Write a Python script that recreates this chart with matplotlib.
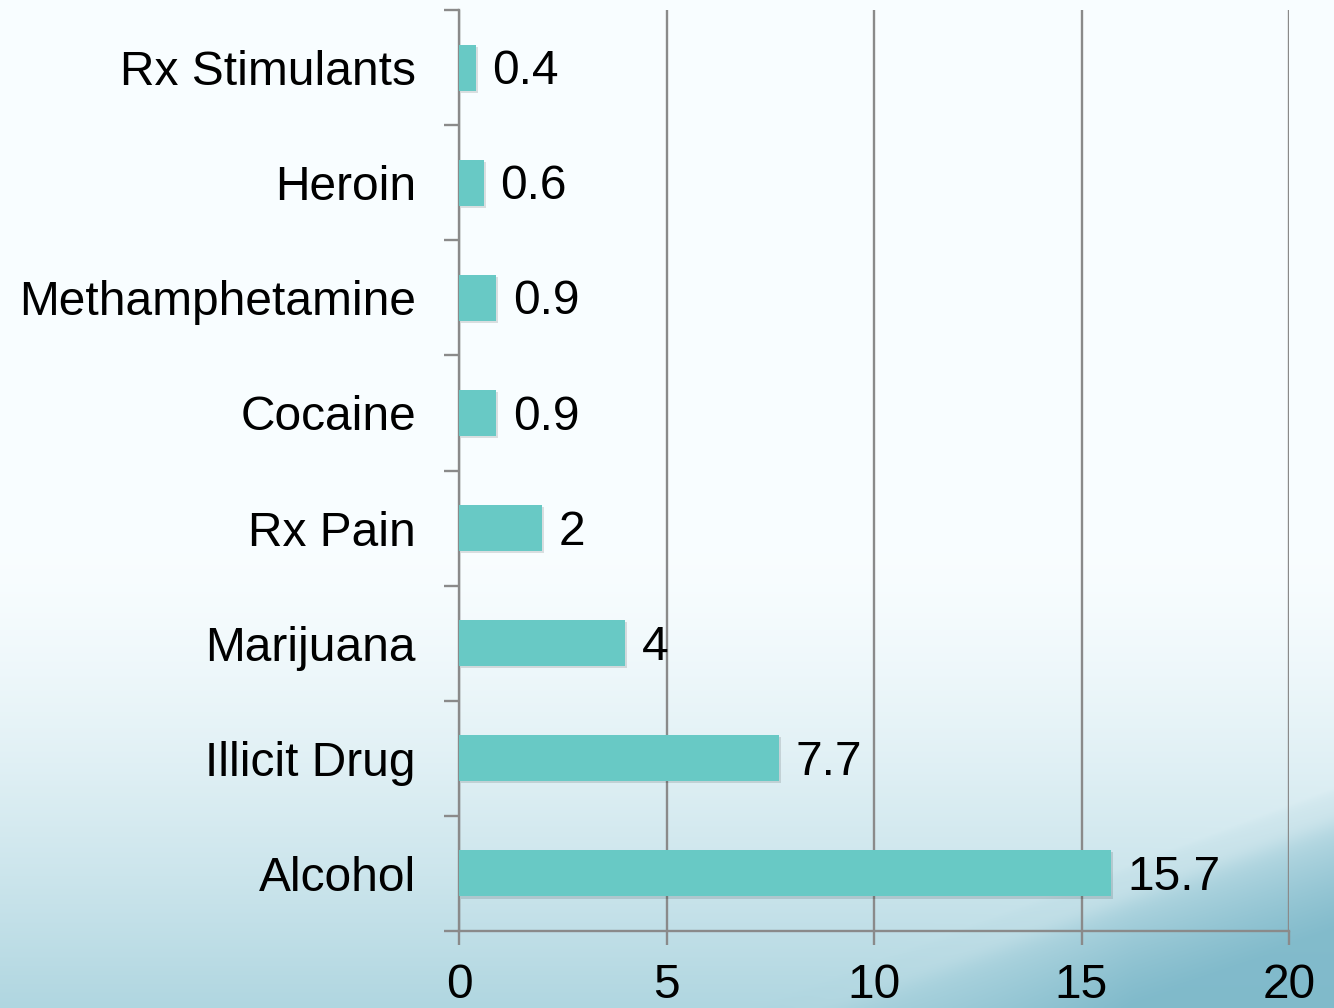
import numpy as np
import matplotlib
matplotlib.use("Agg")
import matplotlib.pyplot as plt
import matplotlib.patheffects as pe
from matplotlib.ticker import FixedLocator

plt.rcParams["font.family"] = ["Liberation Sans", "DejaVu Sans"]

categories = ["Alcohol", "Illicit Drug", "Marijuana", "Rx Pain",
              "Cocaine", "Methamphetamine", "Heroin", "Rx Stimulants"]
values = [15.7, 7.7, 4, 2, 0.9, 0.9, 0.6, 0.4]
value_labels = ["15.7", "7.7", "4", "2", "0.9", "0.9", "0.6", "0.4"]
x_ticks = [0, 5, 10, 15, 20]

BAR_COLOR = "#68c9c5"
LINE_COLOR = "#8a8a8a"

fig = plt.figure(figsize=(13.34, 10.08), dpi=100)

# soft blue backdrop: white at the top, light blue at the bottom,
# with a darker teal swoosh rising into the lower right corner
bg = fig.add_axes([0, 0, 1, 1], zorder=-10)
h, w = 504, 667
yy, xx = np.mgrid[0:h, 0:w]
ty = yy / (h - 1)
tx = xx / (w - 1)
t = np.clip((ty - 0.55) / 0.45, 0, 1) ** 1.4
top = np.array([0.975, 0.993, 1.0])
low = np.array([0.69, 0.84, 0.88])
deep = np.array([0.47, 0.71, 0.78])
img = top + (low - top) * t[..., None]
edge = 0.975 - (tx - 0.675) * 0.50
below = ty - edge
fade_x = np.clip((tx - 0.45) / 0.4, 0, 1)
swoosh = np.clip((below + 0.03) / 0.14, 0, 1) ** 0.8 * fade_x
img = img + (deep - img) * (0.85 * swoosh)[..., None]
streak = np.exp(-((below + 0.005) / 0.015) ** 2) * fade_x
img = img + (1 - img) * (0.15 * streak)[..., None]
bg.imshow(np.clip(img, 0, 1), aspect="auto", extent=[0, 1, 0, 1], interpolation="bilinear")
bg.set_axis_off()

ax = fig.add_axes([459 / 1334, 77 / 1008, 830 / 1334, 921 / 1008])
ax.patch.set_alpha(0)

y = np.arange(len(categories))
bars = ax.barh(y, values, height=0.4, color=BAR_COLOR, zorder=3)
for b in bars:
    b.set_path_effects([pe.SimplePatchShadow(offset=(1.5, -1.5), shadow_rgbFace="#000000", alpha=0.12),
                        pe.Normal()])

for yi, v, lab in zip(y, values, value_labels):
    ax.annotate(lab, (v, yi), xytext=(12, -3), textcoords="offset points",
                ha="left", va="center", fontsize=34.5, color="black", zorder=4)

ax.set_xlim(0, 20)
ax.set_ylim(-0.5, len(categories) - 0.5)
ax.xaxis.set_major_locator(FixedLocator(x_ticks))
ax.set_xticklabels([str(v) for v in x_ticks])
ax.set_yticks(y)
ax.set_yticklabels(categories)
ax.yaxis.set_minor_locator(FixedLocator(np.arange(-0.5, len(categories), 1.0)))

ax.grid(axis="x", color=LINE_COLOR, linewidth=1.7, zorder=1)
ax.set_axisbelow(True)
for side in ("top", "right"):
    ax.spines[side].set_visible(False)
for side in ("left", "bottom"):
    ax.spines[side].set_color(LINE_COLOR)
    ax.spines[side].set_linewidth(1.7)

ax.tick_params(axis="y", which="major", length=0, pad=31, labelsize=34.5)
ax.tick_params(axis="y", which="minor", length=11, width=1.7, color=LINE_COLOR, direction="out")
ax.tick_params(axis="x", which="major", length=10, width=1.7, color=LINE_COLOR,
               direction="out", pad=13, labelsize=34.5)

fig.savefig("out.png", dpi=100)
